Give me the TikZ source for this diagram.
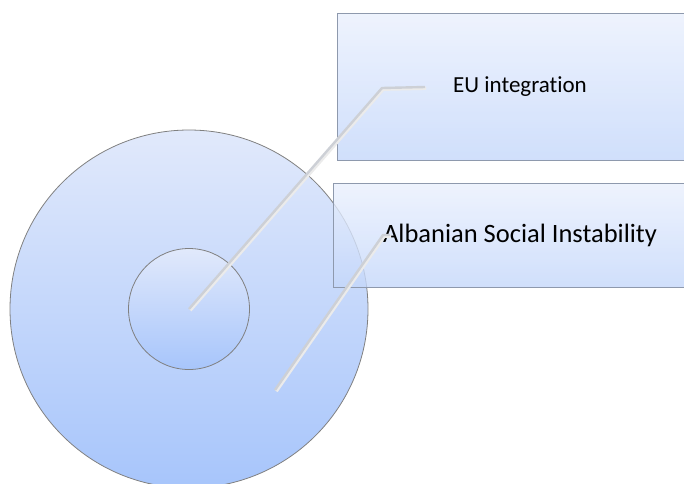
\documentclass[tikz,border=0pt]{standalone}
\usepackage{fontspec}
\setmainfont{Carlito}[Ligatures=NoCommon]
\usetikzlibrary{positioning}

\definecolor{ringtop}{HTML}{E1E9FB}
\definecolor{ringbot}{HTML}{A7C5FB}
\definecolor{boxtop}{HTML}{EAF0FD}
\definecolor{boxbot}{HTML}{C4D7FA}
\definecolor{boxline}{HTML}{8E99AD}
\definecolor{leadline}{HTML}{CDD0D6}

\tikzset{ring/.style={circle,draw=black!50,thick,top color=ringtop,bottom color=ringbot,inner sep=0pt}}
\tikzset{topic/.style={rectangle,draw=boxline,thick,top color=boxtop,bottom color=boxbot,fill opacity=0.8,text opacity=1,inner sep=0pt}}
\tikzset{leader/.style={draw=leadline,line width=2.4pt,line join=round,
  preaction={draw=black!8,line width=3.4pt,transform canvas={shift={(1.2pt,-1.2pt)}}}}}

\begin{document}
\begin{tikzpicture}[
x = 1pt, y = -1pt, % pixel-like units, y down
every node/.style={font=\fontsize{23}{28}\selectfont}
]
\useasboundingbox (0,0) rectangle (684,483);

% circles
\node[ring,minimum size=358pt] (outer) at (189,309) {};
\node[ring,minimum size=121pt] (inner) at (outer.center) {};

% boxes
\node[topic,minimum width=366pt,minimum height=147pt] (eu) at (520,86.5) {EU integration};
\node[topic,minimum width=374pt,minimum height=104pt,font=\fontsize{26.5}{32}\selectfont] (social) at (520,235) {Albanian Social Instability};

% leader lines
\coordinate (euBend) at (382,88);
\coordinate (euEnd) at (425,87);
\coordinate (ringSpot) at (275,390);
\coordinate (socialBend) at (383,235);
\coordinate (socialEnd) at (390,235);

\draw[leader] (inner.center) -- (euBend) -- (euEnd);
\draw[leader] (ringSpot) -- (socialBend) -- (socialEnd);
\end{tikzpicture}
\end{document}
